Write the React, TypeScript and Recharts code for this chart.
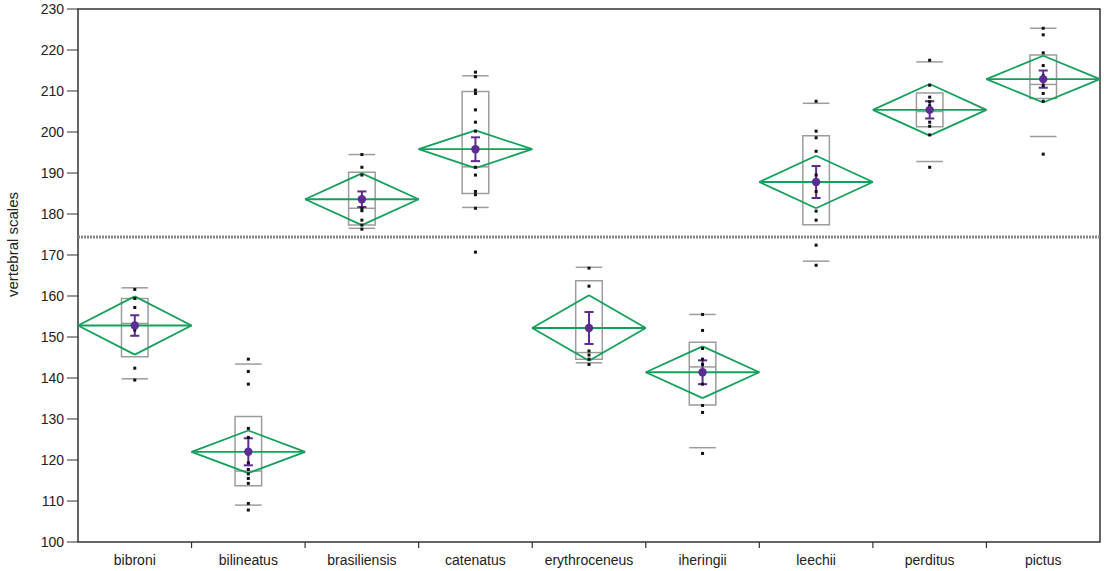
import React from 'react';
import {
  ComposedChart,
  XAxis,
  YAxis,
  Scatter,
  ReferenceLine,
  ReferenceArea,
} from 'recharts';

// species on the x axis
const categories = [
  'bibroni',
  'bilineatus',
  'brasiliensis',
  'catenatus',
  'erythroceneus',
  'iheringii',
  'leechii',
  'perditus',
  'pictus',
];

// group means and half-widths of the diamonds (95% CI) and error bars
const means = [152.8, 122.0, 183.6, 195.8, 152.2, 141.4, 187.8, 205.4, 212.9];
const ciHalf = [7.1, 5.2, 6.3, 4.6, 8.0, 6.3, 6.4, 6.3, 5.7];
const seHalf = [2.5, 3.3, 1.9, 2.9, 3.9, 2.9, 3.9, 2.1, 2.1];

// quantile boxes
const q1 = [145.2, 113.7, 177.3, 185.0, 144.6, 133.4, 177.4, 201.3, 208.2];
const median = [153.3, 117.3, 181.4, 191.5, 146.2, 142.7, 187.7, 205.0, 211.6];
const q3 = [159.4, 130.6, 190.2, 209.9, 163.7, 148.7, 199.1, 209.5, 218.8];
const p10 = [139.8, 109.0, 176.5, 181.6, 143.7, 123.0, 168.5, 192.8, 198.9];
const p90 = [162.0, 143.4, 194.5, 213.7, 167.0, 155.5, 207.0, 217.1, 225.3];

const grandMean = 174.4;
const yTicks = [100, 110, 120, 130, 140, 150, 160, 170, 180, 190, 200, 210, 220, 230];

// raw observations per species
const bibroni = [161.6, 159.4, 157.2, 153.3, 152.5, 151.7, 142.4, 139.5];
const bilineatus = [144.6, 141.6, 138.5, 127.7, 125.5, 119.3, 117.7, 116.6, 115.5, 114.3, 109.4, 107.8];
const brasiliensis = [194.5, 191.4, 189.5, 181.4, 180.8, 178.5, 177.3, 176.3];
const catenatus = [214.6, 213.5, 210.2, 209.4, 205.4, 202.4, 200.2, 191.4, 189.5, 185.5, 184.7, 181.4, 170.7];
const erythroceneus = [166.8, 162.4, 146.6, 145.6, 144.6, 143.3];
const iheringii = [155.5, 151.6, 147.2, 144.6, 143.3, 141.7, 138.5, 133.3, 131.6, 121.6];
const leechii = [207.5, 200.2, 198.6, 195.3, 189.5, 185.5, 180.7, 178.5, 172.4, 167.5];
const perditus = [217.5, 211.4, 208.5, 207.4, 206.4, 205.2, 202.4, 201.4, 199.3, 191.4];
const pictus = [225.3, 223.7, 219.3, 216.2, 213.7, 212.7, 211.3, 209.4, 207.5, 194.6];

const observations = [
  bibroni,
  bilineatus,
  brasiliensis,
  catenatus,
  erythroceneus,
  iheringii,
  leechii,
  perditus,
  pictus,
];

const GREEN = '#14a05c';
const GRAY = '#9c9c9c';
const PURPLE = '#5b2c92';
const FRAME = '#333';
const TEXT = '#222';
const FONT = '"Liberation Sans", Arial, sans-serif';

const BOX_HALF = 0.117;
const CAP_HALF = 0.04;

const pointData = observations.flatMap((vals, i) => vals.map((v) => ({ x: i + 0.5, y: v })));
const meanData = means.map((m, i) => ({ x: i + 0.5, y: m }));
// integer ticks are the separators, half ticks carry the species names
const xTicks = categories.flatMap((_, i) => [i, i + 0.5]).concat(categories.length);

const Square = (props: any) => (
  <rect x={props.cx - 1.5} y={props.cy - 1.5} width={3} height={3} fill="#111" />
);

const MeanDot = (props: any) => <circle cx={props.cx} cy={props.cy} r={4.2} fill={PURPLE} />;

const XTick = (props: any) => {
  const { x, y, payload } = props;
  const v = payload.value as number;
  if (Number.isInteger(v)) {
    if (v === 0 || v === categories.length) return <g />;
    return <line x1={x} x2={x} y1={y} y2={y + 6} stroke={FRAME} strokeWidth={1.2} />;
  }
  return (
    <text x={x} y={y + 18} textAnchor="middle" dominantBaseline="central" fill={TEXT} fontSize={14} fontFamily={FONT}>
      {categories[Math.floor(v)]}
    </text>
  );
};

function seg(key: string, x1: number, y1: number, x2: number, y2: number, stroke: string, w = 1.5) {
  return (
    <ReferenceLine
      key={key}
      segment={[
        { x: x1, y: y1 },
        { x: x2, y: y2 },
      ]}
      stroke={stroke}
      strokeWidth={w}
      ifOverflow="visible"
    />
  );
}

export default function App() {
  const diamonds = means.flatMap((m, i) => {
    const lo = i;
    const hi = i + 1;
    const c = i + 0.5;
    const top = m + ciHalf[i];
    const bot = m - ciHalf[i];
    return [
      seg(`d1-${i}`, lo, m, c, top, GREEN, 1.8),
      seg(`d2-${i}`, c, top, hi, m, GREEN, 1.8),
      seg(`d3-${i}`, hi, m, c, bot, GREEN, 1.8),
      seg(`d4-${i}`, c, bot, lo, m, GREEN, 1.8),
      seg(`dm-${i}`, lo, m, hi, m, GREEN, 1.8),
    ];
  });

  const boxes = categories.flatMap((_, i) => {
    const c = i + 0.5;
    return [
      <ReferenceArea
        key={`box-${i}`}
        x1={c - BOX_HALF}
        x2={c + BOX_HALF}
        y1={q1[i]}
        y2={q3[i]}
        fill="none"
        fillOpacity={0}
        stroke={GRAY}
        strokeWidth={1.5}
        ifOverflow="visible"
      />,
      seg(`med-${i}`, c - BOX_HALF, median[i], c + BOX_HALF, median[i], GRAY),
      seg(`p10-${i}`, c - BOX_HALF, p10[i], c + BOX_HALF, p10[i], GRAY),
      seg(`p90-${i}`, c - BOX_HALF, p90[i], c + BOX_HALF, p90[i], GRAY),
    ];
  });

  const errorBars = means.flatMap((m, i) => {
    const c = i + 0.5;
    const up = m + seHalf[i];
    const dn = m - seHalf[i];
    return [
      seg(`ev-${i}`, c, dn, c, up, PURPLE, 2),
      seg(`et-${i}`, c - CAP_HALF, up, c + CAP_HALF, up, PURPLE, 2),
      seg(`eb-${i}`, c - CAP_HALF, dn, c + CAP_HALF, dn, PURPLE, 2),
    ];
  });

  return (
    <div style={{ width: 1104, height: 571, fontFamily: FONT }}>
      <style>{'body { margin: 0; }'}</style>
      <ComposedChart
        width={1104}
        height={571}
        margin={{ top: 9, right: 4, bottom: 0, left: 0 }}
        style={{ fontFamily: FONT }}
      >
        <XAxis
          dataKey="x"
          type="number"
          domain={[0, categories.length]}
          ticks={xTicks}
          interval={0}
          tick={<XTick />}
          tickSize={0}
          tickMargin={0}
          height={29}
          axisLine={false}
          tickLine={false}
          allowDataOverflow
        />
        <YAxis
          dataKey="y"
          type="number"
          domain={[100, 230]}
          ticks={yTicks}
          interval={0}
          width={78}
          tickSize={11}
          tickMargin={3}
          axisLine={false}
          tickLine={{ stroke: FRAME }}
          tick={{ fill: TEXT, fontSize: 14, fontFamily: FONT }}
          allowDataOverflow
          label={{
            value: 'vertebral scales',
            content: (p: any) => {
              const vb = p.viewBox || { x: 0, y: 9, width: 78, height: 533 };
              const cx = vb.x + 12;
              const cy = vb.y + vb.height / 2 - 31;
              return (
                <text
                  x={cx}
                  y={cy}
                  transform={`rotate(-90 ${cx} ${cy})`}
                  textAnchor="middle"
                  dominantBaseline="central"
                  fill={TEXT}
                  fontSize={15}
                  fontFamily={FONT}
                >
                  vertebral scales
                </text>
              );
            },
          }}
        />
        <ReferenceArea
          x1={0}
          x2={categories.length}
          y1={100}
          y2={230}
          fill="none"
          fillOpacity={0}
          stroke={FRAME}
          strokeWidth={1.5}
          ifOverflow="visible"
        />
        <ReferenceLine
          y={grandMean}
          stroke="#888"
          strokeWidth={3}
          strokeDasharray="2 1"
        />
        {boxes}
        {diamonds}
        <Scatter data={pointData} shape={Square} isAnimationActive={false} />
        {errorBars}
        <Scatter data={meanData} shape={MeanDot} isAnimationActive={false} />
      </ComposedChart>
    </div>
  );
}
